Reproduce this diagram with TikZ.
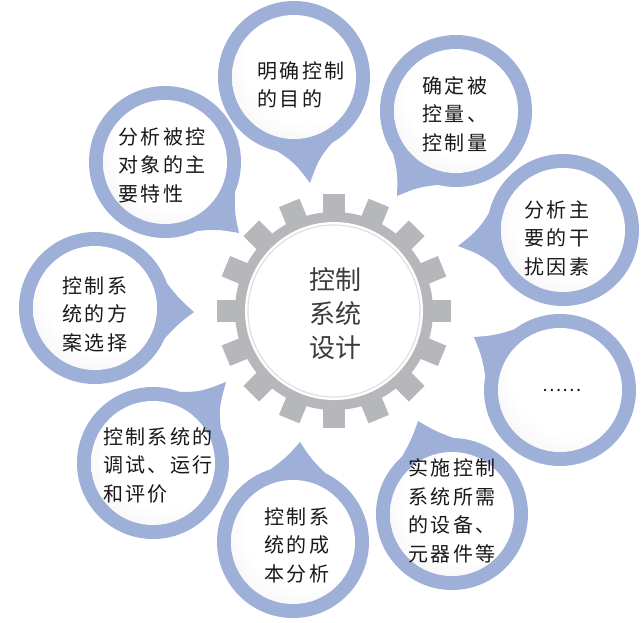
\documentclass[tikz,border=0pt]{standalone}
\usepackage{fontspec}
\newfontfamily\cjk[LetterSpace=12]{Noto Sans CJK SC}
\newfontfamily\cjkc{Noto Sans CJK SC}
\usetikzlibrary{calc}
\definecolor{ring}{RGB}{158,176,216}
\definecolor{gearc}{RGB}{181,183,187}
\definecolor{txt}{RGB}{25,25,25}
\definecolor{ctxt}{RGB}{60,60,60}
\pgfdeclareradialshading{bubshade}{\pgfpoint{8bp}{10bp}}{color(0bp)=(white); color(24bp)=(white); color(50bp)=(black!10); color(60bp)=(black!10)}
\newcommand\bubtail[2]{\fill[ring] ($(#1.center)!72pt!36:(#2)$) .. controls ($(#1.center)!84pt!9:(#2)$) .. (#2) .. controls ($(#1.center)!84pt!-9:(#2)$) .. ($(#1.center)!72pt!-36:(#2)$) -- (#1.center) -- cycle;}
\begin{document}
\begin{tikzpicture}[x=1pt,y=-1pt,
  bubring/.style={circle, fill=ring, minimum size=152pt, inner sep=0pt},
  bubin/.style={circle, shading=bubshade, minimum size=124pt, inner sep=0pt},
  btext/.style={font=\cjk\fontsize{20}{28.5}\selectfont, align=left, text=txt, inner sep=0pt},
  gtext/.style={font=\cjkc\fontsize{26}{34}\selectfont, align=center, text=ctxt, inner sep=0pt}]
\fill[white] (0,0) rectangle (642,622);
\useasboundingbox (0,0) rectangle (642,622);

% outer rings
\node[bubring] (A) at (294,77) {};
\node[bubring] (B) at (456,111) {};
\node[bubring] (C) at (563,230) {};
\node[bubring] (D) at (560,390) {};
\node[bubring] (E) at (452,514) {};
\node[bubring] (F) at (293,542) {};
\node[bubring] (G) at (153,463) {};
\node[bubring] (H) at (95,308) {};
\node[bubring] (I) at (165,162) {};

% tail tips
\coordinate (At) at (310,183);
\coordinate (Bt) at (397,196);
\coordinate (Ct) at (458,246);
\coordinate (Dt) at (474,337);
\coordinate (Et) at (418,421);
\coordinate (Ft) at (300,442);
\coordinate (Gt) at (226,382);
\coordinate (Ht) at (194,312);
\coordinate (It) at (239,233);

\bubtail{A}{At}
\bubtail{B}{Bt}
\bubtail{C}{Ct}
\bubtail{D}{Dt}
\bubtail{E}{Et}
\bubtail{F}{Ft}
\bubtail{G}{Gt}
\bubtail{H}{Ht}
\bubtail{I}{It}

% inner discs
\foreach \n in {A,B,C,D,E,F,G,H,I}
  \node[bubin] (\n i) at (\n) {};

% texts
\node[btext] (Ax) at (301,85) {明确控制\\的目的};
\node[btext] (Bx) at (455,114) {确定被\\控量、\\控制量};
\node[btext] (Cx) at (557,238) {分析主\\要的干\\扰因素};
\node[font=\cjkc\fontsize{18}{20}\selectfont, text=txt, inner sep=0pt] (Dx) at (562,390) {……};
\node[btext] (Ex) at (452,511) {实施控制\\系统所需\\的设备、\\元器件等};
\node[btext] (Fx) at (297,545) {控制系\\统的成\\本分析};
\node[btext] (Gx) at (158,465) {控制系统的\\调试、运行\\和评价};
\node[btext] (Hx) at (95,314) {控制系\\统的方\\案选择};
\node[btext] (Ix) at (162,165) {分析被控\\对象的主\\要特性};

% gear
\coordinate (g) at (334,311);
\begin{scope}[shift={(3,4)}]
\fill[black!7] (g) circle (99pt);
\foreach \a in {0,22.5,...,337.5}
  \fill[black!7, rotate around={\a:(g)}] ($(g)+(-11,94)$) rectangle ($(g)+(11,117)$);
\end{scope}
\fill[gearc] (g) circle (99pt);
\foreach \a in {0,22.5,...,337.5}
  \fill[gearc, rotate around={\a:(g)}] ($(g)+(-11,94)$) rectangle ($(g)+(11,117)$);
\node[circle, fill=white, minimum size=178pt, inner sep=0pt] (gw) at (g) {};
\node[circle, draw=black!12, line width=1.2pt, minimum size=172pt, inner sep=0pt] (gi) at (g) {};
\node[gtext] (gx) at (335,314) {控制\\系统\\设计};
\end{tikzpicture}
\end{document}
